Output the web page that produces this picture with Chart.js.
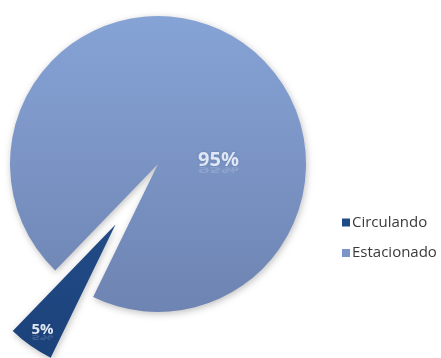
<!DOCTYPE html>
<html>
<head>
<meta charset="utf-8">
<script src="https://cdn.jsdelivr.net/npm/chart.js@4.4.1/dist/chart.umd.min.js"></script>
<style>
  html, body { margin: 0; padding: 0; background: #fff; }
  #contenedor { width: 441px; height: 358px; }
</style>
</head>
<body>
<div id="contenedor"><canvas id="grafico"></canvas></div>
<script>
// datos del grafico
var estados = ['Circulando', 'Estacionado'];
var porcentajes = [5, 95];

// colores (arriba / abajo del degradado) de cada porcion
var coloresArriba = ['#2d5a9c', '#86a3d6'];
var coloresAbajo = ['#1b4179', '#6a7fac'];

var RADIO = 148;
var DESTACADO = [74, 0]; // cuanto se separa cada porcion del centro

function degradado(context) {
  var chart = context.chart;
  var area = chart.chartArea;
  if (!area) return coloresArriba[context.dataIndex];
  var cy = (area.top + area.bottom) / 2;
  var g = chart.ctx.createLinearGradient(0, cy - RADIO, 0, cy + RADIO + 50);
  g.addColorStop(0, coloresArriba[context.dataIndex]);
  g.addColorStop(1, coloresAbajo[context.dataIndex]);
  return g;
}

// separa la porcion destacada, dibuja sombra, porcentajes y leyenda
var decoracion = {
  id: 'decoracion',
  afterDatasetUpdate: function (chart, args) {
    args.meta.data.forEach(function (arc, i) {
      var mitad = (arc.startAngle + arc.endAngle) / 2;
      arc.x += Math.cos(mitad) * DESTACADO[i];
      arc.y += Math.sin(mitad) * DESTACADO[i];
    });
  },
  beforeDatasetsDraw: function (chart) {
    var ctx = chart.ctx;
    ctx.save();
    ctx.shadowColor = 'rgba(0,0,0,0.25)';
    ctx.shadowBlur = 7;
    ctx.shadowOffsetX = 1;
    ctx.shadowOffsetY = 2;
  },
  afterDatasetsDraw: function (chart) {
    var ctx = chart.ctx;
    ctx.restore();

    var meta = chart.getDatasetMeta(0);
    var total = porcentajes.reduce(function (a, b) { return a + b; }, 0);
    // posicion de cada etiqueta: giro respecto al medio de la porcion y fraccion del radio
    var ubicacion = [{ giro: 0, r: 0.86, tam: 15 }, { giro: 0.88, r: 0.41, tam: 20 }];

    meta.data.forEach(function (arc, i) {
      var mitad = (arc.startAngle + arc.endAngle) / 2;
      var ang = mitad + ubicacion[i].giro;
      var px = arc.x + Math.cos(ang) * arc.outerRadius * ubicacion[i].r;
      var py = arc.y + Math.sin(ang) * arc.outerRadius * ubicacion[i].r;
      var texto = Math.round(porcentajes[i] / total * 100) + '%';

      ctx.save();
      ctx.font = 'bold ' + ubicacion[i].tam + 'px "Open Sans", sans-serif';
      ctx.textAlign = 'center';
      ctx.textBaseline = 'alphabetic';
      var base = py + ubicacion[i].tam * 0.36;
      // reflejo tenue
      ctx.save();
      ctx.translate(px, base + 1);
      ctx.scale(1, -0.45);
      ctx.globalAlpha = 0.18;
      ctx.fillStyle = '#e8eef8';
      ctx.fillText(texto, 0, 0);
      ctx.restore();
      ctx.shadowColor = 'rgba(40,60,100,0.35)';
      ctx.shadowBlur = 2;
      ctx.fillStyle = '#dfe7f5';
      ctx.fillText(texto, px, base);
      ctx.restore();
    });

    // leyenda a la derecha
    var lx = chart.chartArea.right + 26;
    var ly = [222.5, 253];
    ctx.save();
    ctx.font = '15px "Open Sans", sans-serif';
    ctx.textBaseline = 'middle';
    ctx.textAlign = 'left';
    estados.forEach(function (nombre, i) {
      ctx.fillStyle = i === 0 ? '#1f4a88' : '#7b95c8';
      ctx.fillRect(lx, ly[i] - 4, 8, 8);
      ctx.fillStyle = '#3a3a3a';
      ctx.fillText(nombre, lx + 10, ly[i]);
    });
    ctx.restore();
  }
};

new Chart(document.getElementById('grafico'), {
  type: 'pie',
  data: {
    labels: estados,
    datasets: [{
      data: porcentajes,
      backgroundColor: degradado,
      borderWidth: 0,
      clip: false
    }]
  },
  options: {
    responsive: true,
    maintainAspectRatio: false,
    animation: false,
    rotation: 206,
    radius: RADIO,
    layout: { padding: { left: 0, right: 125, top: 0, bottom: 30 } },
    plugins: {
      legend: { display: false },
      tooltip: { enabled: false }
    }
  },
  plugins: [decoracion]
});
</script>
</body>
</html>
